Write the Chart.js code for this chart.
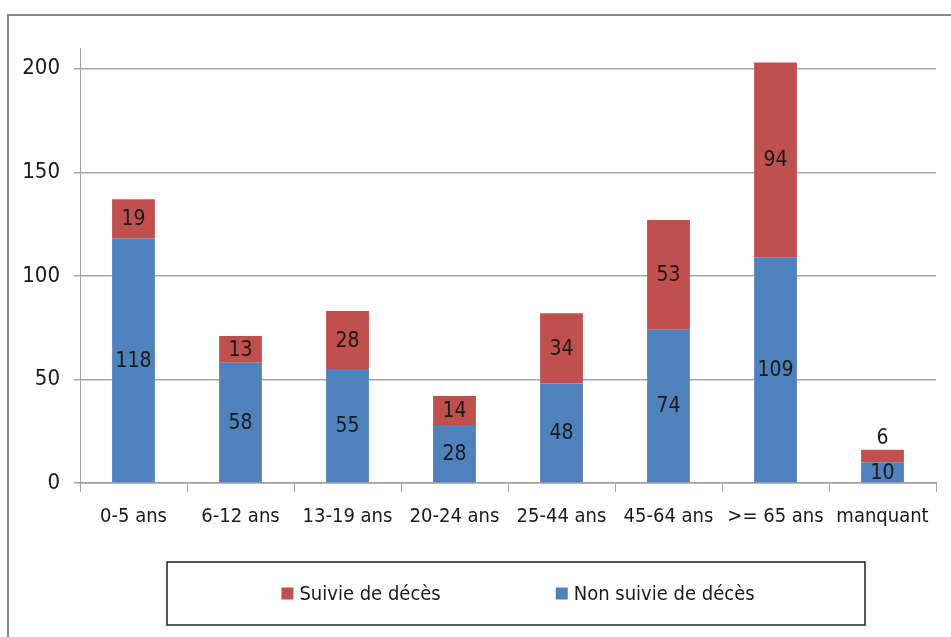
<!DOCTYPE html>
<html>
<head>
<meta charset="utf-8">
<script src="https://cdn.jsdelivr.net/npm/chart.js@4.4.1/dist/chart.umd.min.js"></script>
<style>
  html, body { margin: 0; padding: 0; background: #fff; }
</style>
</head>
<body>
<canvas id="myChart" width="951" height="637"></canvas>
<script>
// data
const categories = ['0-5 ans', '6-12 ans', '13-19 ans', '20-24 ans', '25-44 ans', '45-64 ans', '>= 65 ans', 'manquant'];
const nonSuivie = [118, 58, 55, 28, 48, 74, 109, 10];
const suivie = [19, 13, 28, 14, 34, 53, 94, 6];
const yTicks = [0, 50, 100, 150, 200];

const FONT = "'Liberation Sans Narrow', 'DejaVu Sans Condensed', 'Open Sans', sans-serif";
const BLUE = '#4f81bd';
const RED = '#c0504d';
const TEXT = '#1a1a1a';

Chart.defaults.font.family = FONT;
Chart.defaults.color = TEXT;

// outer frame of the original picture
const framePlugin = {
  id: 'frame',
  beforeDraw(chart) {
    const ctx = chart.ctx;
    ctx.save();
    ctx.fillStyle = '#fff';
    ctx.fillRect(0, 0, chart.width, chart.height);
    ctx.strokeStyle = '#8a8a8a';
    ctx.lineWidth = 2;
    ctx.strokeRect(8, 15, chart.width + 20, chart.height + 20);
    ctx.restore();
  },
};

// numbers written inside the segments
const valueLabels = {
  id: 'valueLabels',
  afterDatasetsDraw(chart) {
    const ctx = chart.ctx;
    ctx.save();
    ctx.font = '21px ' + FONT;
    ctx.fillStyle = TEXT;
    ctx.textAlign = 'center';
    chart.data.datasets.forEach((ds, i) => {
      chart.getDatasetMeta(i).data.forEach((bar, j) => {
        const h = bar.base - bar.y;
        if (i === 1 && h < 22) {
          ctx.textBaseline = 'bottom';
          ctx.fillText(ds.data[j], bar.x, bar.y - 1);
        } else {
          ctx.textBaseline = 'middle';
          ctx.fillText(ds.data[j], bar.x, (bar.y + bar.base) / 2 + 1);
        }
      });
    });
    ctx.restore();
  },
};

// boxed legend under the axis
const boxLegend = {
  id: 'boxLegend',
  afterDraw(chart) {
    const ctx = chart.ctx;
    const box = { left: 167, top: 562, width: 698, height: 63 };
    ctx.save();
    ctx.strokeStyle = '#222';
    ctx.lineWidth = 1.5;
    ctx.strokeRect(box.left, box.top, box.width, box.height);
    ctx.font = '20px ' + FONT;
    ctx.textBaseline = 'middle';
    ctx.textAlign = 'left';
    const items = chart.data.datasets.slice().reverse();
    const sq = 12, gapText = 6, gapItem = 115;
    const widths = items.map(d => sq + gapText + ctx.measureText(d.label).width);
    const total = widths.reduce((a, b) => a + b, 0) + gapItem;
    let x = box.left + box.width / 2 + 2 - total / 2;
    const cy = box.top + box.height / 2;
    items.forEach((d, i) => {
      ctx.fillStyle = d.backgroundColor;
      ctx.fillRect(x, cy - sq / 2, sq, sq);
      ctx.fillStyle = TEXT;
      ctx.fillText(d.label, x + sq + gapText, cy + 1);
      x += widths[i] + gapItem;
    });
    ctx.restore();
  },
};

const chart = new Chart(document.getElementById('myChart'), {
  type: 'bar',
  data: {
    labels: categories,
    datasets: [
      {
        label: 'Non suivie de décès',
        data: nonSuivie,
        backgroundColor: BLUE,
        barPercentage: 1,
        categoryPercentage: 0.4,
      },
      {
        label: 'Suivie de décès',
        data: suivie,
        backgroundColor: RED,
        barPercentage: 1,
        categoryPercentage: 0.4,
      },
    ],
  },
  options: {
    responsive: false,
    devicePixelRatio: 1,
    animation: false,
    layout: {
      padding: { left: 8, top: 48, right: 15, bottom: 0 },
    },
    plugins: {
      legend: { display: false },
      tooltip: { enabled: false },
    },
    scales: {
      x: {
        stacked: true,
        afterFit(scale) { scale.height = 154; },
        grid: {
          offset: true,
          drawOnChartArea: false,
          drawTicks: true,
          tickLength: 9,
          color: '#a0a0a0',
        },
        border: { color: '#a0a0a0', width: 1.5 },
        ticks: {
          padding: 13,
          maxRotation: 0,
          autoSkip: false,
          font: { size: 20 },
          color: TEXT,
        },
      },
      y: {
        stacked: true,
        min: 0,
        max: 210,
        afterFit(scale) { scale.width = 72; },
        afterBuildTicks(scale) {
          scale.ticks = yTicks.map(v => ({ value: v }));
        },
        grid: {
          color: '#a8a8a8',
          lineWidth: 1.5,
          tickLength: 6,
        },
        border: { color: '#a0a0a0', width: 1 },
        ticks: {
          padding: 14,
          font: { size: 22 },
          color: TEXT,
        },
      },
    },
  },
  plugins: [framePlugin, valueLabels, boxLegend],
});
</script>
</body>
</html>
